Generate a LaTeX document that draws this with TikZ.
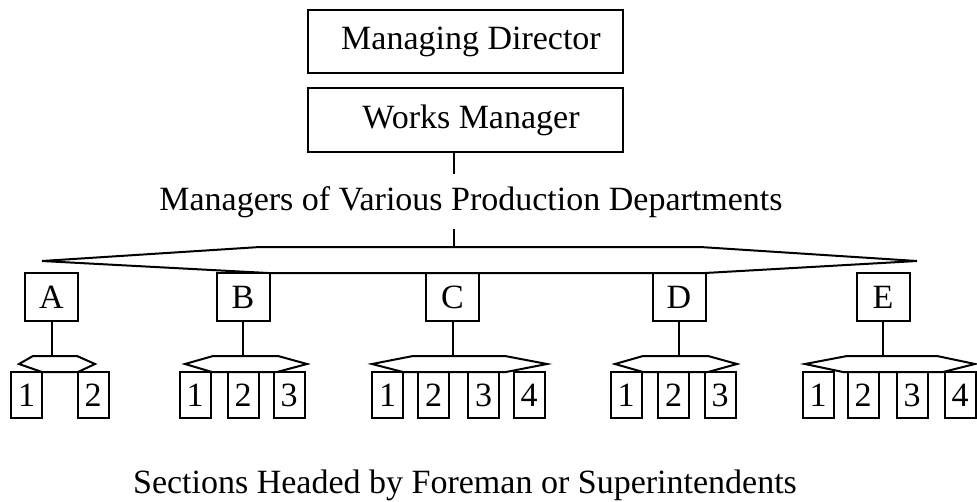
\documentclass[tikz,border=0pt]{standalone}
\usepackage{fontspec}
\setmainfont{Liberation Serif}
\begin{document}
\begin{tikzpicture}[x=1pt,y=-1pt,line width=2pt,
    every node/.style={font=\fontsize{34}{40}\selectfont},
    topbox/.style={draw,line width=2pt,minimum width=315pt,inner sep=0pt},
    deptbox/.style={draw,line width=2pt,minimum width=53pt,minimum height=48pt,inner sep=0pt},
    secbox/.style={draw,line width=2pt,minimum width=31pt,minimum height=46pt,inner sep=0pt}]
  \useasboundingbox (0,0) rectangle (977,501);

  \node[topbox,minimum height=63pt] (md) at (465.5,41.5) {\hspace*{11pt}Managing Director};
  \node[topbox,minimum height=64pt] (wm) at (465.5,120) {\hspace*{11pt}\raisebox{-11pt}{Works Manager}};
  \node[anchor=base,inner ysep=11pt] (mgrs) at (471,210) {Managers of Various Production Departments};
  \node[anchor=base] (sect) at (465,493) {Sections Headed by Foreman or Superintendents};

  \coordinate (hx) at (454,247);
  \coordinate (sh) at (0,356);
  \draw (wm.south -| hx) -- (mgrs.north -| hx);
  \draw (mgrs.south -| hx) -- (hx);
  \draw (42,261) -- (260,247) -- (700,247) -- (917,261) -- (705,273) -- (268,273) -- cycle;

  % production departments
  \foreach \d/\cx in {A/51.5,B/243,C/452.5,D/679,E/883}{
    \node[deptbox] (\d) at (\cx,297) {\d};
  }

  % small hexagons under each department
  \foreach \d/\tl/\ul/\ur/\tr/\br/\bl in {A/19/33/77/95/78/42,B/185/213/278/307/277/212,
      C/372/413/505/547/506/403,D/615/643/708/737/708/643,E/805/847/937/975/943/843}{
    \coordinate (h\d) at (\d.south |- sh);
    \draw (\d) -- (h\d);
    \draw (\tl,364) -- (\ul,356) -- (\ur,356) -- (\tr,364) -- (\br,372) -- (\bl,372) -- cycle;
  }

  % sections
  \foreach \d/\n/\cx in {A/1/26.5,A/2/93,B/1/195,B/2/243,B/3/289,
      C/1/387.5,C/2/433.5,C/3/483.5,C/4/529,D/1/626,D/2/673.5,D/3/720,
      E/1/818,E/2/863,E/3/912,E/4/960}{
    \node[secbox] (\d\n) at (\cx,395) {\n};
  }
\end{tikzpicture}
\end{document}
